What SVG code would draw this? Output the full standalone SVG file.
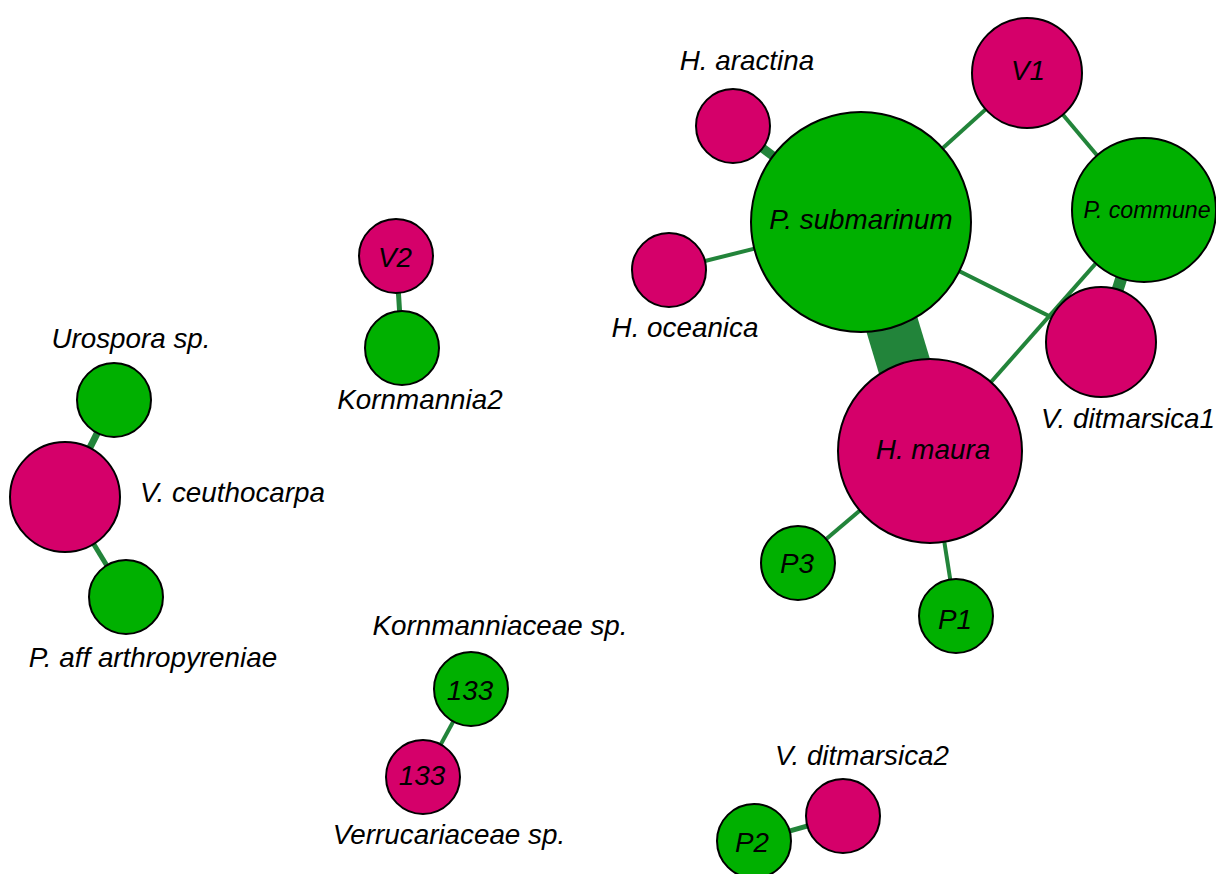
<svg xmlns="http://www.w3.org/2000/svg" width="1216" height="874" viewBox="0 0 1216 874">
<style>
.e{stroke:#22843a;fill:none;stroke-linecap:butt}
.g{fill:#00b000;stroke:#000;stroke-width:2}
.p{fill:#d5006a;stroke:#000;stroke-width:2}
text{font-family:"Liberation Sans",Arial,sans-serif;font-style:italic;font-size:27.8px;fill:#000}
.m{text-anchor:middle}
</style>
<rect width="1216" height="874" fill="#fff"/>
<g id="edges">
<line class="e" x1="861" y1="222" x2="930" y2="451" stroke-width="53"/>
<line class="e" x1="733" y1="126" x2="861" y2="222" stroke-width="9"/>
<line class="e" x1="669" y1="270" x2="861" y2="222" stroke-width="4"/>
<line class="e" x1="1027" y1="72" x2="861" y2="222" stroke-width="4"/>
<line class="e" x1="1027" y1="72" x2="1143" y2="210" stroke-width="4"/>
<line class="e" x1="861" y1="222" x2="1101" y2="342" stroke-width="4"/>
<line class="e" x1="1143" y1="210" x2="930" y2="451" stroke-width="4"/>
<line class="e" x1="1143" y1="210" x2="1101" y2="342" stroke-width="12"/>
<line class="e" x1="930" y1="451" x2="798" y2="563" stroke-width="4"/>
<line class="e" x1="930" y1="451" x2="956" y2="616" stroke-width="4"/>
<line class="e" x1="114" y1="400" x2="65" y2="497" stroke-width="7"/>
<line class="e" x1="65" y1="497" x2="126" y2="597" stroke-width="5"/>
<line class="e" x1="396" y1="256" x2="402" y2="348" stroke-width="5"/>
<line class="e" x1="471" y1="689" x2="423" y2="777" stroke-width="4"/>
<line class="e" x1="754" y1="841" x2="843" y2="816" stroke-width="5"/>
</g>
<g id="n-psubmarinum"><circle class="g" cx="861" cy="222" r="110"/><text class="m" x="861" y="229">P. submarinum</text></g>
<g id="n-haractina"><circle class="p" cx="733" cy="126" r="37"/><text class="m" x="747" y="70">H. aractina</text></g>
<g id="n-hoceanica"><circle class="p" cx="669" cy="270" r="37"/><text class="m" x="685" y="337">H. oceanica</text></g>
<g id="n-v1"><circle class="p" cx="1027" cy="73" r="55"/><text class="m" x="1028" y="80">V1</text></g>
<g id="n-pcommune"><circle class="g" cx="1144" cy="210" r="72"/><text class="m" x="1147" y="218" style="font-size:23.2px">P. commune</text></g>
<g id="n-vditmarsica1"><circle class="p" cx="1101" cy="342" r="55"/><text x="1041" y="428">V. ditmarsica1</text></g>
<g id="n-hmaura"><circle class="p" cx="930" cy="451" r="92"/><text class="m" x="933" y="459">H. maura</text></g>
<g id="n-p3"><circle class="g" cx="798" cy="563" r="37"/><text class="m" x="797" y="573">P3</text></g>
<g id="n-p1"><circle class="g" cx="956" cy="616" r="37"/><text class="m" x="955" y="629">P1</text></g>
<g id="n-urospora"><circle class="g" cx="114" cy="400" r="37"/><text class="m" x="131" y="348">Urospora sp.</text></g>
<g id="n-vceuthocarpa"><circle class="p" cx="65" cy="497" r="55"/><text x="140" y="502">V. ceuthocarpa</text></g>
<g id="n-paff"><circle class="g" cx="126" cy="597" r="37"/><text class="m" x="153" y="667">P. aff arthropyreniae</text></g>
<g id="n-v2"><circle class="p" cx="396" cy="256" r="37"/><text class="m" x="395" y="267">V2</text></g>
<g id="n-kornmannia2"><circle class="g" cx="402" cy="348" r="37"/><text class="m" x="420" y="409">Kornmannia2</text></g>
<g id="n-kornmanniaceae"><circle class="g" cx="471" cy="689" r="37"/><text class="m" x="470" y="700">133</text><text class="m" x="500" y="635">Kornmanniaceae sp.</text></g>
<g id="n-verrucariaceae"><circle class="p" cx="423" cy="777" r="37"/><text class="m" x="422" y="785">133</text><text class="m" x="449" y="844">Verrucariaceae sp.</text></g>
<g id="n-vditmarsica2"><circle class="p" cx="843" cy="816" r="37"/><text class="m" x="862" y="765">V. ditmarsica2</text></g>
<g id="n-p2"><circle class="g" cx="754" cy="841" r="37"/><text class="m" x="752" y="852">P2</text></g>
</svg>
